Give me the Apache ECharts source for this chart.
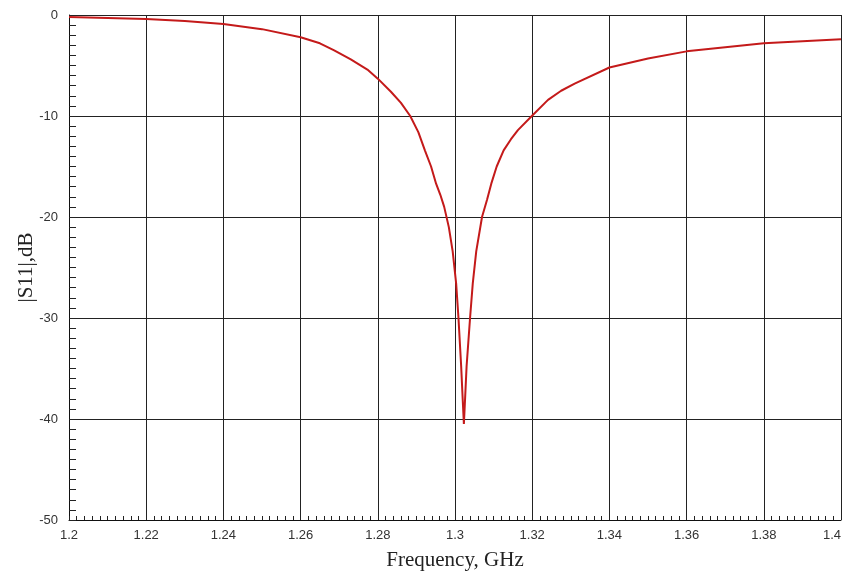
<!DOCTYPE html>
<html>
<head>
<meta charset="utf-8">
<script src="https://cdn.jsdelivr.net/npm/echarts@6/dist/echarts.min.js"></script>
<style>
  html, body { margin: 0; padding: 0; background: #ffffff; overflow: hidden; }
  #chart { width: 843px; height: 575px; }
</style>
</head>
<body>
<div id="chart"></div>
<script>
// Frequency (GHz)
var freqs = [1.200, 1.210, 1.220, 1.230, 1.240, 1.250, 1.260, 1.265, 1.2687, 1.273, 1.2773,
             1.280, 1.2834, 1.2860, 1.2884, 1.2905, 1.2922, 1.2938, 1.2951, 1.2962, 1.2972, 1.2984, 1.2994, 1.3003,
             1.3009, 1.3016, 1.3020, 1.3023, 1.3026, 1.3030, 1.3039, 1.3046, 1.3055, 1.3070,
             1.3083, 1.3094, 1.3108, 1.3126, 1.3145, 1.3163, 1.3199, 1.3241, 1.3275, 1.3310, 1.3400, 1.3500, 1.3600,
             1.3700, 1.3800, 1.3900, 1.4000];
// |S11| (dB)
var s11 = [-0.2, -0.3, -0.4, -0.6, -0.9, -1.4, -2.2, -2.8, -3.5, -4.4, -5.4,
           -6.3, -7.6, -8.7, -10.0, -11.6, -13.4, -15.0, -16.7, -17.8, -19.0, -21.0, -23.4, -26.6,
           -30.0, -34.8, -38.1, -40.5, -38.1, -34.8, -30.0, -26.6, -23.4, -20.0,
           -18.3, -16.7, -15.0, -13.4, -12.3, -11.4, -10.0, -8.4, -7.5, -6.8, -5.2, -4.3, -3.6,
           -3.2, -2.8, -2.6, -2.4];
var xTitle = 'Frequency, GHz';
var yTitle = '|S11|,dB';

var data = freqs.map(function (f, i) { return [f, s11[i]]; });

var chart = echarts.init(document.getElementById('chart'), null, { renderer: 'canvas' });
chart.setOption({
  backgroundColor: '#ffffff',
  animation: false,
  grid: { left: 69, right: 2, top: 15, bottom: 55, containLabel: false, outerBoundsMode: 'none' },
  xAxis: {
    type: 'value',
    min: 1.2, max: 1.4, interval: 0.02,
    name: xTitle,
    nameLocation: 'middle',
    nameGap: 30,
    nameMoveOverlap: false,
    nameTextStyle: { fontFamily: 'Liberation Serif', fontSize: 21, color: '#222' },
    axisLine: { show: true, onZero: false, lineStyle: { color: '#111', width: 1 } },
    axisTick: { show: true, inside: true, length: 4, lineStyle: { color: '#222' } },
    minorTick: { show: true, splitNumber: 10, length: 4, lineStyle: { color: '#222', width: 1 } },
    axisLabel: { fontFamily: 'Liberation Sans', fontSize: 13, color: '#333', margin: 9,
      alignMaxLabel: 'right',
      formatter: function (v) { return String(+v.toFixed(2)); } },
    splitLine: { show: true, lineStyle: { color: '#222', width: 1 } }
  },
  yAxis: {
    type: 'value',
    min: -50, max: 0, interval: 10,
    name: yTitle,
    nameLocation: 'middle',
    nameGap: 32,
    nameRotate: 90,
    nameMoveOverlap: false,
    nameTextStyle: { fontFamily: 'Liberation Serif', fontSize: 21, color: '#222' },
    axisLine: { show: true, onZero: false, lineStyle: { color: '#111', width: 1 } },
    axisTick: { show: true, inside: true, length: 7, lineStyle: { color: '#222' } },
    minorTick: { show: true, splitNumber: 10, length: 7, lineStyle: { color: '#222', width: 1 } },
    axisLabel: { fontFamily: 'Liberation Sans', fontSize: 13, color: '#333', margin: 11 },
    splitLine: { show: true, lineStyle: { color: '#222', width: 1 } }
  },
  series: [{
    type: 'line',
    data: data,
    showSymbol: false,
    smooth: false,
    lineStyle: { color: '#c41a1a', width: 2 },
    z: 5
  }]
});
</script>
</body>
</html>
